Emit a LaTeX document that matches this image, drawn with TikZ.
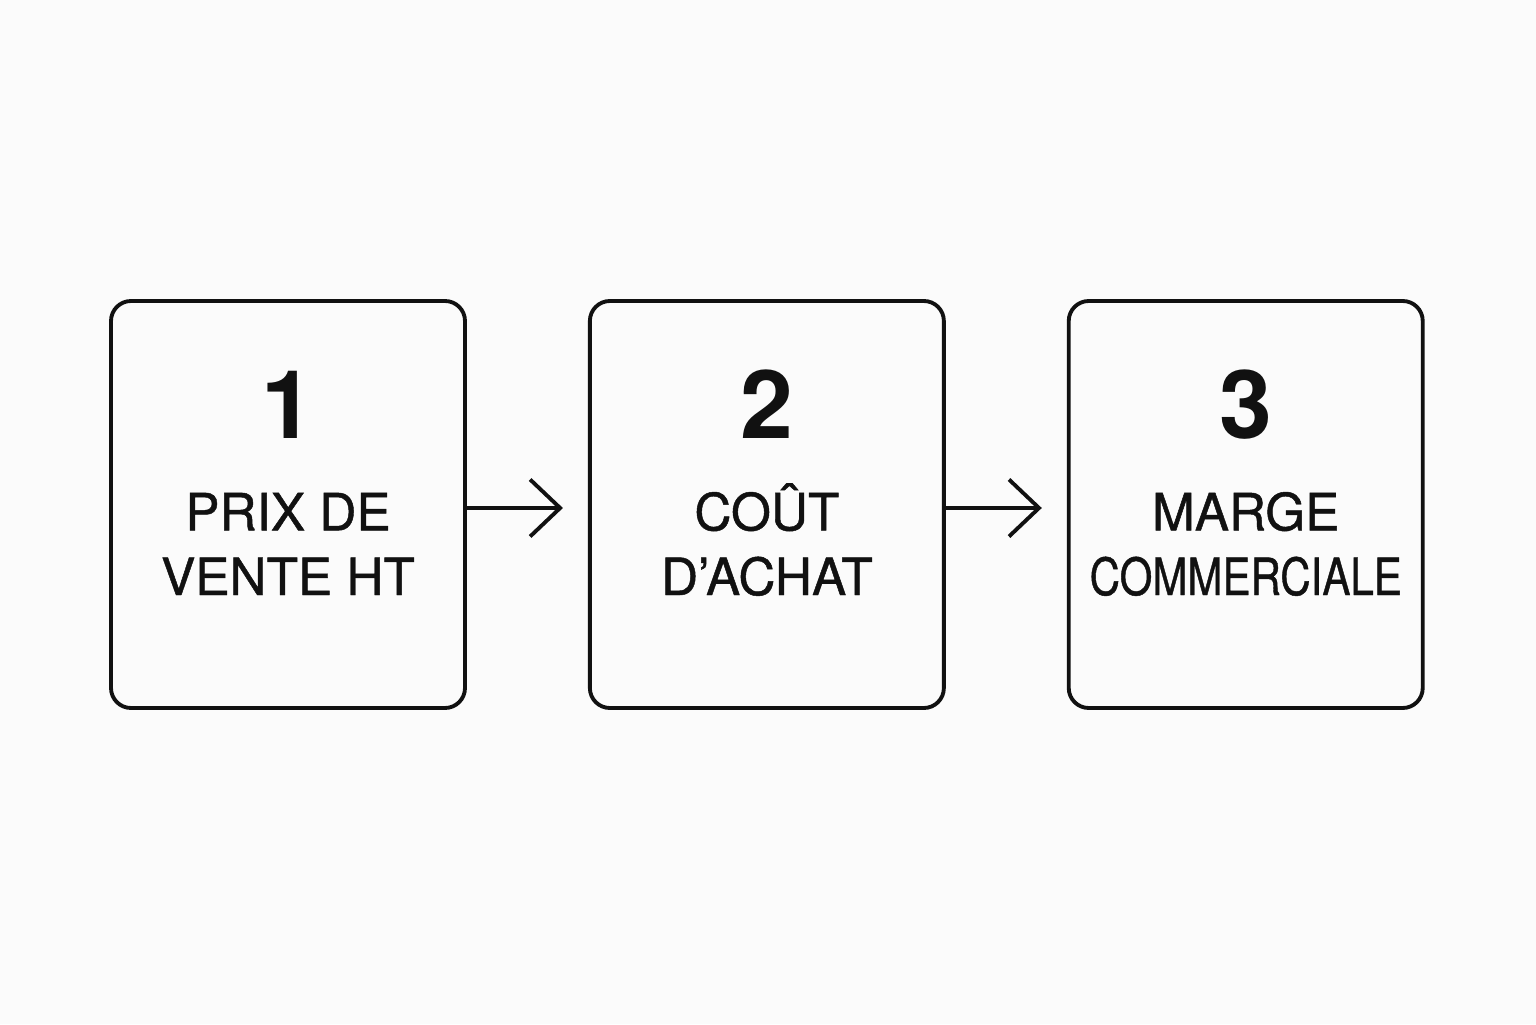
\documentclass[tikz,border=0pt]{standalone}
\usepackage{fontspec}
\setmainfont{TeX Gyre Heros}
\newfontfamily\moyen{TeX Gyre Heros}[FakeBold=0.9]
\usetikzlibrary{positioning,arrows.meta}
\definecolor{fond}{RGB}{251,251,251}
\definecolor{encre}{RGB}{17,17,17}
\begin{document}
\begin{tikzpicture}[
    etape/.style = {draw=encre, line width=1.1pt, rounded corners=0.2cm, minimum width=3.54cm, minimum height=4.07cm},
    numero/.style = {anchor=base, text=encre, font=\fontsize{27}{32}\selectfont\bfseries},
    texte/.style = {anchor=base, align=center, text=encre, font=\moyen\fontsize{14.6}{18.4}\selectfont},
    fleche/.style = {draw=encre, line width=1.1pt, -{Straight Barb[length=3mm,width=5.7mm]}, shorten >=0.25cm}
  ]
      \fill [fond] (0,0) rectangle (15.36,10.24);
      \useasboundingbox (0,0) rectangle (15.36,10.24);
      \node [etape] (prix) at (2.88,5.195) {};
      \node [etape, right=1.21cm of prix] (cout) {};
      \node [etape, right=1.21cm of cout] (marge) {};
      \node [numero] (n1) at ([yshift=0.665cm]prix.center) {1};
      \node [numero] (n2) at ([yshift=0.665cm]cout.center) {2};
      \node [numero] (n3) at ([yshift=0.665cm]marge.center) {3};
      \node [texte] (t1) at ([yshift=-0.905cm]prix.center) {PRIX DE\\VENTE HT};
      \node [texte] (t2) at ([yshift=-0.905cm]cout.center) {COÛT\\D’ACHAT};
      \node [texte] (t3) at ([yshift=-0.905cm]marge.center) {MARGE\\\scalebox{0.82}[1]{COMMERCIALE}};
      \draw [fleche] ([yshift=-0.035cm]prix.east) -- ([yshift=-0.035cm]cout.west);
      \draw [fleche] ([yshift=-0.035cm]cout.east) -- ([yshift=-0.035cm]marge.west);
\end{tikzpicture}
\end{document}
